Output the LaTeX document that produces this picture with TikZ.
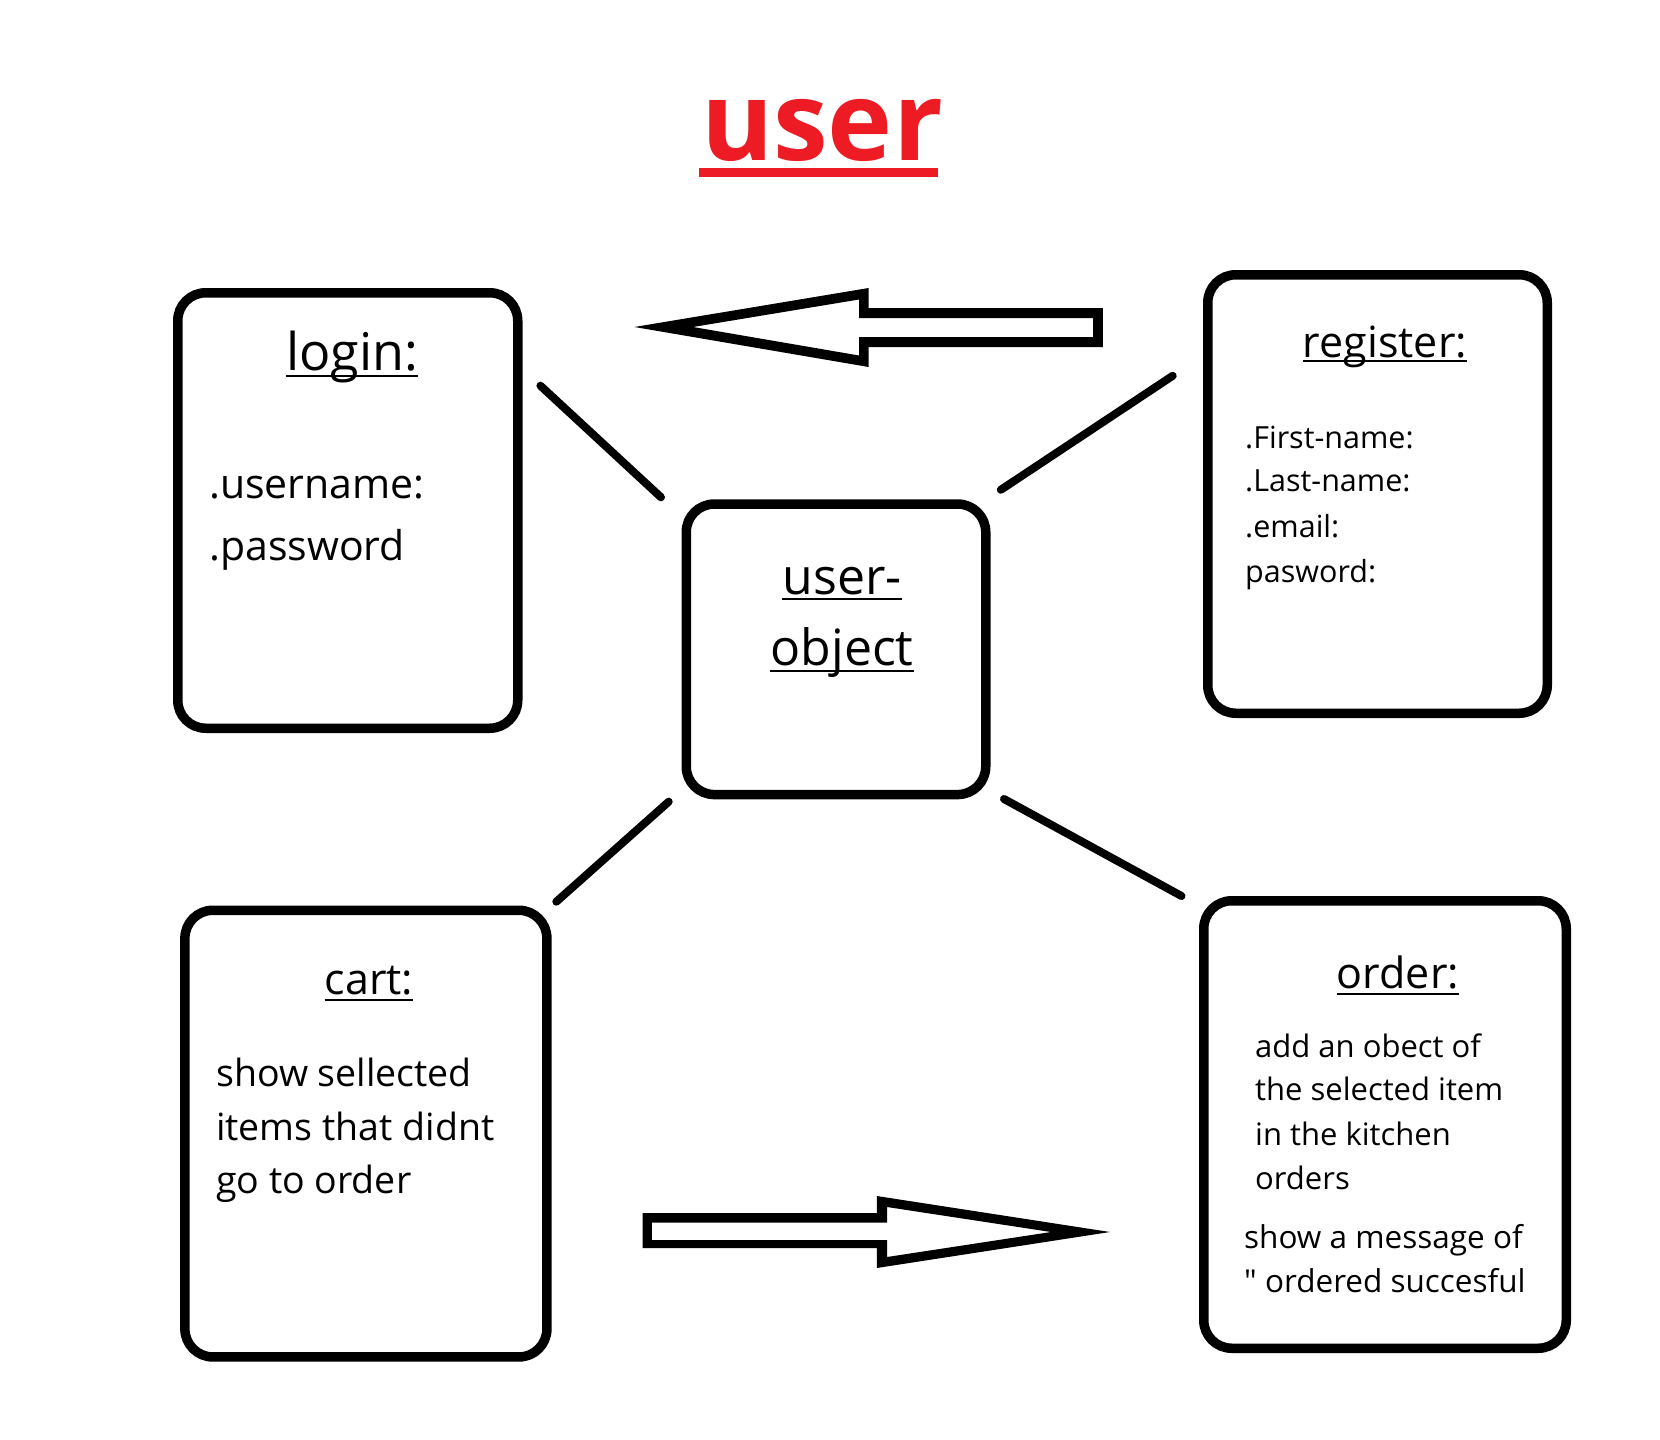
\documentclass[tikz,border=0pt]{standalone}
\usepackage{fontspec}
\setmainfont{Open Sans}[Ligatures=TeXOff]
\definecolor{ured}{RGB}{237,28,36}
\begin{document}
\begin{tikzpicture}[x=1pt,y=-1pt,
  box/.style={draw, line width=9.5pt, rounded corners=28pt, inner sep=0pt},
  txt/.style={inner sep=0pt, anchor=base west},
  ctxt/.style={inner sep=0pt, anchor=base},
  link/.style={line width=8pt, line cap=round},
  ulline/.style={line width=2.6pt},
  bigtitle/.style={font=\fontsize{52}{60}\selectfont},
  midtitle/.style={font=\fontsize{43}{50}\selectfont},
]
\fill[white] (0,0) rectangle (1660,1440);
\useasboundingbox (0,0) rectangle (1660,1440);

% title
\node[ctxt, text=ured, font=\fontsize{110}{120}\selectfont\bfseries] (title) at (822,160) {user};
\draw[ured, line width=9pt] ([xshift=-2pt,yshift=-12.5pt]title.base west) -- ([xshift=-5pt,yshift=-12.5pt]title.base east);

% boxes
\node[box, minimum width=340pt, minimum height=435.5pt] (login) at (347.75,510.5) {};
\node[box, minimum width=299.5pt, minimum height=290.5pt] (uobj) at (836,649.3) {};
\node[box, minimum width=339.5pt, minimum height=438.5pt] (register) at (1377.5,494) {};
\node[box, minimum width=362pt, minimum height=446.7pt] (cart) at (365.9,1133.6) {};
\node[box, minimum width=362.5pt, minimum height=447.5pt] (order) at (1385,1124.5) {};

% login text
\node[ctxt, bigtitle] (logint) at (352,370) {login:};
\draw[ulline] ([yshift=-6pt]logint.base west) -- ([yshift=-6pt]logint.base east);
\node[txt, font=\fontsize{41}{49}\selectfont] (lu) at (209,498) {.username:};
\node[txt, font=\fontsize{41}{49}\selectfont] (lp) at (209,560) {.password};

% user-object text
\node[ctxt, font=\fontsize{50}{60}\selectfont] (uo1) at (842,594) {user-};
\draw[ulline] ([yshift=-5pt]uo1.base west) -- ([yshift=-5pt]uo1.base east);
\node[ctxt, font=\fontsize{50}{60}\selectfont] (uo2) at (842,665.4) {object};
\draw[ulline] ([yshift=-5.5pt]uo2.base west) -- ([yshift=-5.5pt]uo2.base east);

% register text
\node[ctxt, midtitle] (regt) at (1385,357) {register:};
\draw[ulline] ([yshift=-4pt]regt.base west) -- ([yshift=-4pt]regt.base east);
\node[txt, font=\fontsize{30.5}{34}\selectfont] (r1) at (1245,448) {.First-name:};
\node[txt, font=\fontsize{30.5}{34}\selectfont] (r2) at (1245,491) {.Last-name:};
\node[txt, font=\fontsize{30.5}{34}\selectfont] (r3) at (1245,537) {.email:};
\node[txt, font=\fontsize{30.5}{34}\selectfont] (r4) at (1245,582) {pasword:};

% cart text
\node[ctxt, midtitle] (cartt) at (369,994) {cart:};
\draw[ulline] ([yshift=-6pt]cartt.base west) -- ([yshift=-6pt]cartt.base east);
\node[txt, font=\fontsize{37.5}{44}\selectfont] (c1) at (216,1086) {show sellected};
\node[txt, font=\fontsize{37.5}{44}\selectfont] (c2) at (216,1140) {items that didnt};
\node[txt, font=\fontsize{37.5}{44}\selectfont] (c3) at (216,1193) {go to order};

% order text
\node[ctxt, midtitle] (ordt) at (1398,988) {order:};
\draw[ulline] ([yshift=-6pt]ordt.base west) -- ([yshift=-6pt]ordt.base east);
\node[txt, font=\fontsize{31}{37}\selectfont] (o1) at (1255,1057) {add an obect of};
\node[txt, font=\fontsize{31}{37}\selectfont] (o2) at (1255,1100) {the selected item};
\node[txt, font=\fontsize{31}{37}\selectfont] (o3) at (1255,1145) {in the kitchen};
\node[txt, font=\fontsize{31}{37}\selectfont] (o4) at (1255,1189) {orders};
\node[txt, font=\fontsize{31.5}{37}\selectfont] (o5) at (1244,1248) {show a message of};
\node[txt, font=\fontsize{31.5}{37}\selectfont] (o6) at (1244,1292) {" ordered succesful};

% connectors
\coordinate (l1a) at (540.4,385.7); \coordinate (l1b) at (661,497.3);
\coordinate (l2a) at (1000.8,489.8); \coordinate (l2b) at (1172.7,375.8);
\coordinate (l3a) at (556.3,901.7); \coordinate (l3b) at (668.7,801.7);
\coordinate (l4a) at (1004,799); \coordinate (l4b) at (1181.5,896);
\draw[link] (l1a) -- (l1b);
\draw[link] (l2a) -- (l2b);
\draw[link] (l3a) -- (l3b);
\draw[link] (l4a) -- (l4b);

% block arrows
\fill[black, even odd rule]
  (634.4,327) -- (868.6,288) -- (868.6,308) -- (1102.8,308) -- (1102.8,347) -- (868.6,347) -- (868.6,367) -- cycle
  (693,327) -- (859,299.5) -- (859,318) -- (1093,318) -- (1093,337) -- (859,337) -- (859,355.5) -- cycle;
\fill[black, even odd rule]
  (642.6,1213) -- (876.8,1213) -- (876.8,1196) -- (1110,1232) -- (876.8,1268) -- (876.8,1248) -- (642.6,1248) -- cycle
  (651.8,1222.5) -- (887,1222.5) -- (887,1207) -- (1051,1232) -- (887,1257) -- (887,1240) -- (651.8,1240) -- cycle;
\end{tikzpicture}
\end{document}
